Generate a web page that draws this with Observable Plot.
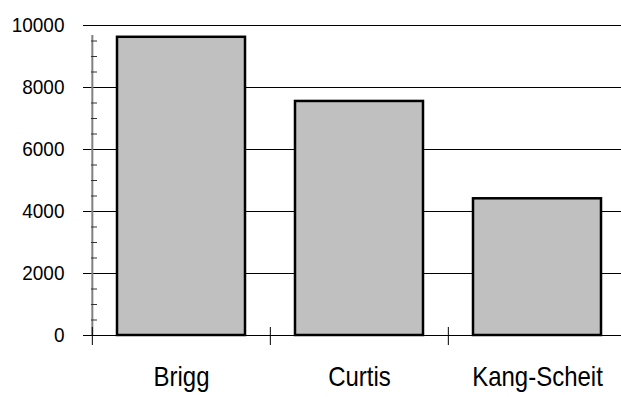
<!DOCTYPE html>
<html><head><meta charset="utf-8">
<script src="https://cdn.jsdelivr.net/npm/d3@7"></script>
<script src="https://cdn.jsdelivr.net/npm/@observablehq/plot@0.6"></script>
<style>html,body{margin:0;padding:0;background:#fff} svg{display:block}</style>
</head><body><div id="chart"></div>
<script>
// Data
const categories = ["Brigg", "Curtis", "Kang-Scheit"];
const values = [9620, 7550, 4410];
const majorTicks = [0, 2000, 4000, 6000, 8000, 10000];
const minorTicks = [500, 1000, 1500, 2500, 3000, 3500, 4500, 5000, 5500, 6500, 7000, 7500, 8500, 9000, 9500];

const data = categories.map((name, i) => ({name, value: values[i]}));

const W = 621, H = 397, mL = 91, mT = 25, mB = 62, xRight = 626;
const step = (xRight - mL) / categories.length;

const chart = Plot.plot({
  width: W, height: H,
  marginLeft: mL, marginRight: 0, marginTop: mT, marginBottom: mB,
  style: {fontFamily: "'Liberation Sans', Arial, sans-serif", background: "#fff", color: "#000"},
  x: {domain: categories, range: [mL, xRight], padding: 0},
  y: {domain: [0, 10000]},
  marks: [
    Plot.ruleY(majorTicks, {stroke: "#000", strokeWidth: 1, insetLeft: -8}),
    Plot.ruleX([categories[0]], {dx: -step / 2, y1: 0, y2: 10000, insetBottom: -10, stroke: "#808080", strokeWidth: 2}),
    Plot.ruleY(minorTicks, {stroke: "#333", strokeWidth: 1, insetRight: W - mL - 6}),
    Plot.ruleX(categories, {dx: -step / 2, y1: 0, y2: 0, insetTop: -8, insetBottom: -10, stroke: "#000", strokeWidth: 1}),
    Plot.barY(data, {x: "name", y: "value", fill: "#c0c0c0", stroke: "#000", strokeWidth: 2.5, insetLeft: 25, insetRight: 25}),
    Plot.axisY({ticks: majorTicks, tickFormat: d => String(d), tickSize: 0, tickPadding: 27, fontSize: 19, label: null}),
    Plot.axisX({tickSize: 0, tickPadding: 31, fontSize: 24, label: null})
  ]
});

// Slight vertical stretch of the label glyphs to match the reference font proportions
d3.select(chart).selectAll("text").each(function () {
  const g = this.parentNode;
  const lab = (g && g.getAttribute("aria-label")) || "";
  const k = lab.startsWith("x-axis") ? 1.17 : 1.1;
  const tf = this.getAttribute("transform");
  if (tf) {
    this.setAttribute("transform", tf + ` scale(1,${k})`);
  } else {
    const x = +this.getAttribute("x") || 0, y = +this.getAttribute("y") || 0;
    this.removeAttribute("x"); this.removeAttribute("y");
    this.setAttribute("transform", `translate(${x},${y}) scale(1,${k})`);
  }
});

document.getElementById("chart").append(chart);
</script>
</body></html>
